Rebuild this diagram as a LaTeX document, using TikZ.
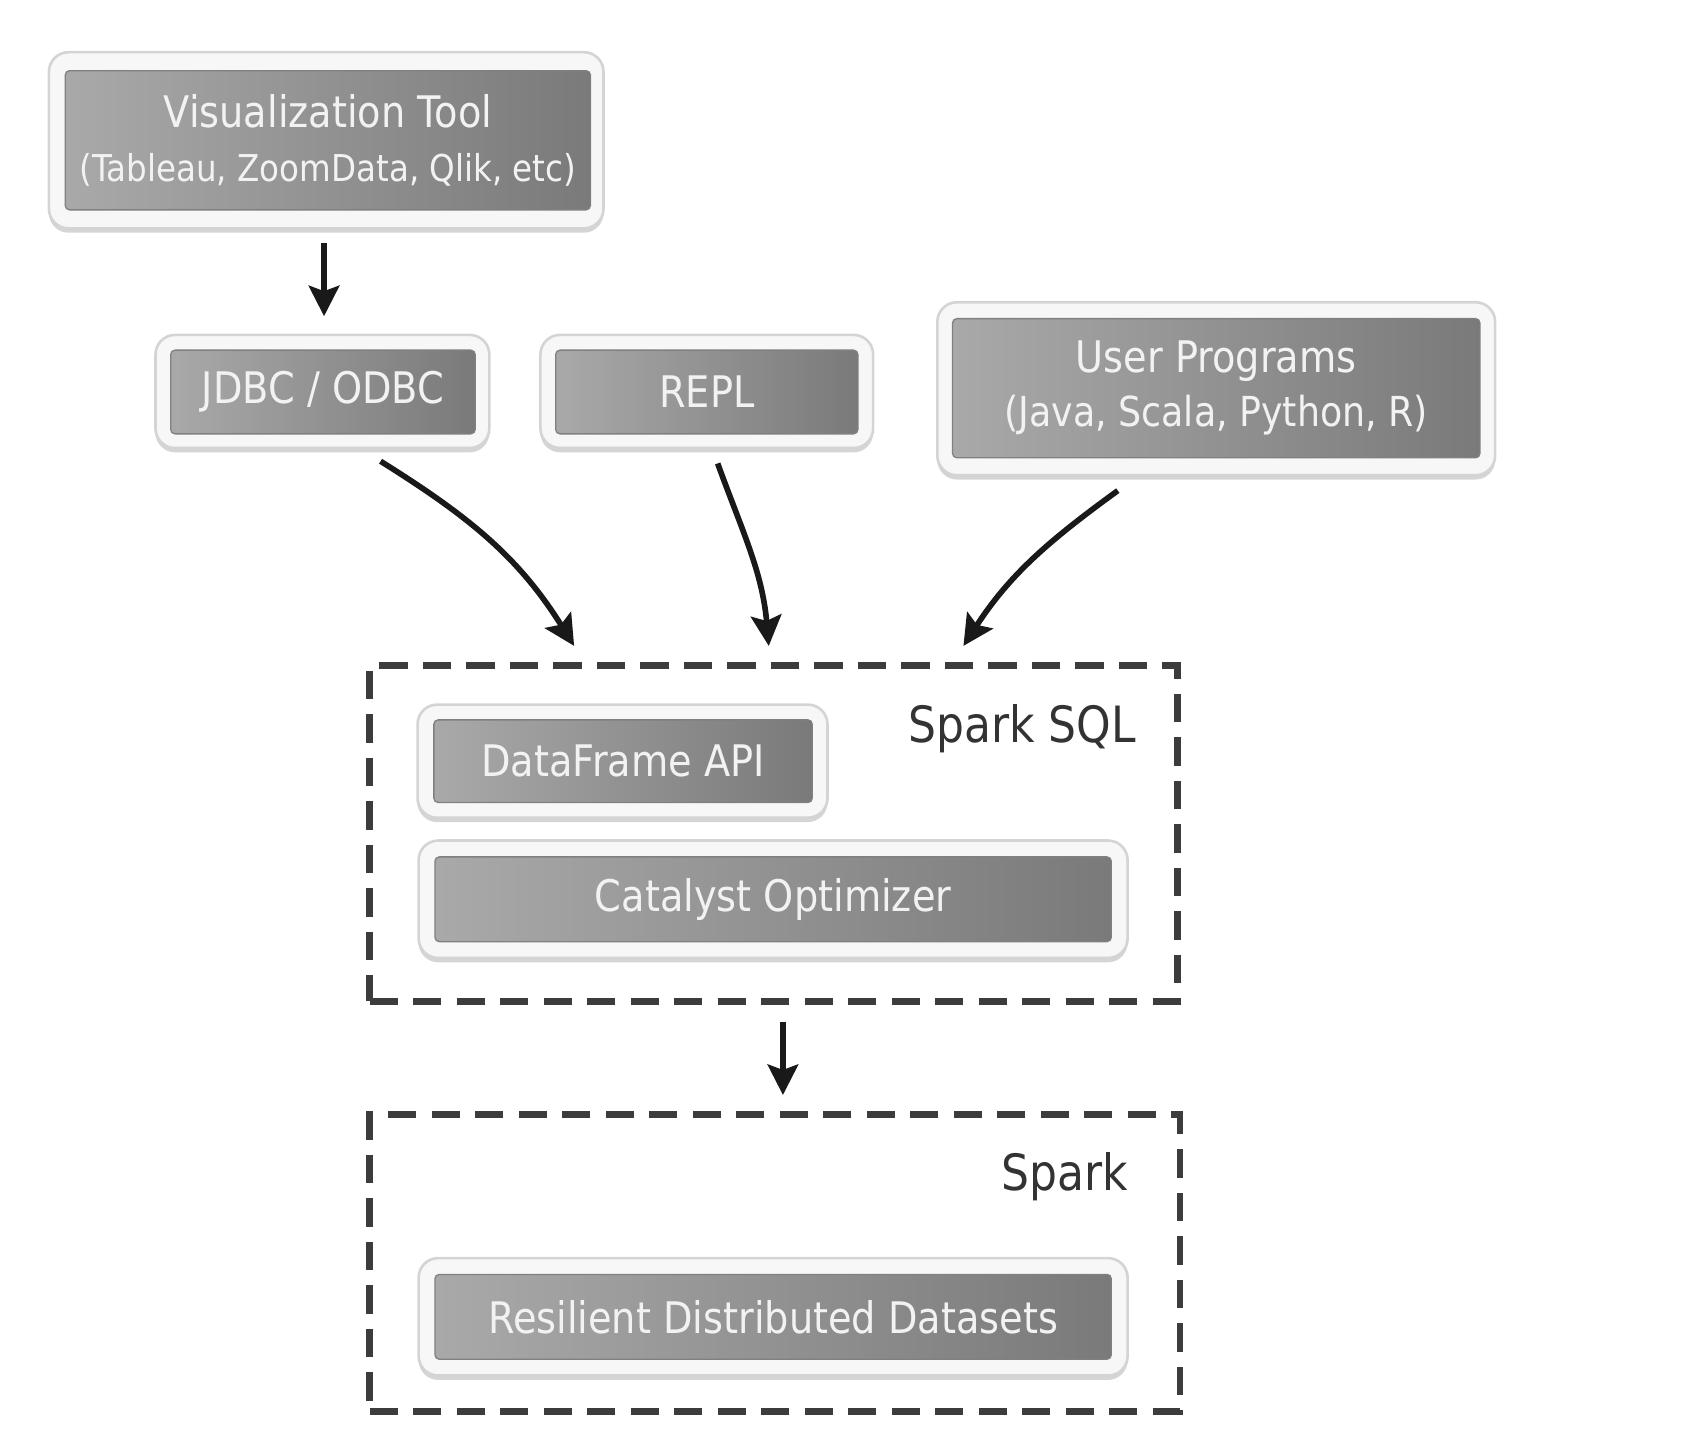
\documentclass[tikz,border=0pt]{standalone}
\usepackage{fontspec}
\setmainfont{DejaVu Sans}[FakeStretch=0.88]
\usetikzlibrary{arrows.meta,shadows,calc}
\definecolor{boxleft}{HTML}{A9A9A9}
\definecolor{boxright}{HTML}{7A7A7A}
\definecolor{dashcol}{HTML}{3C3C3C}
\definecolor{labelcol}{HTML}{333333}
\tikzset{
  outerframe/.style 2 args={draw=black!17, line width=1.2pt, fill=black!3,
    rounded corners=9pt, minimum width=#1*0.5pt, minimum height=#2*0.5pt,
    inner sep=0pt, drop shadow={shadow xshift=0pt, shadow yshift=-2pt, opacity=0.3, fill=black!55}},
  innerbox/.style 2 args={draw=black!50, line width=0.6pt, left color=boxleft, right color=boxright,
    rounded corners=2pt, minimum width=#1*0.5pt, minimum height=#2*0.5pt,
    inner sep=0pt, text=white!95!black, align=center, font=\fontsize{20}{25}\selectfont},
  dashbox/.style={draw=dashcol, line width=3pt, dash pattern=on 13pt off 7pt},
  arr/.style={draw=black!90, line width=2.6pt, -{Stealth[length=14pt,width=14pt,inset=2.5pt]}},
  lbl/.style={text=labelcol, font=\fontsize{23}{28}\selectfont, inner sep=0pt},
}
\begin{document}
\begin{tikzpicture}[x=0.5pt,y=-0.5pt]
\useasboundingbox (0,0) rectangle (1568,1338);
% Visualization tool
\node[outerframe={510}{162}] (visf) at (300,129) {};
\node[innerbox={483}{128}] (vis) at (301.5,129) {Visualization Tool\\\fontsize{17}{25}\selectfont(Tableau, ZoomData, Qlik, etc)};
% JDBC
\node[outerframe={307}{104}] (jdbcf) at (296.5,360) {};
\node[innerbox={280}{77}] (jdbc) at (297,360.5) {JDBC / ODBC};
% REPL
\node[outerframe={306}{104}] (replf) at (650,360) {};
\node[innerbox={278}{77}] (repl) at (650,360.5) {REPL};
% User programs
\node[outerframe={513}{159}] (userf) at (1118.5,357.5) {};
\node[innerbox={485}{128}] (user) at (1118.5,357) {User Programs\\\fontsize{19}{25}\selectfont(Java, Scala, Python, R)};
% Spark SQL
\node[dashbox, minimum width=743*0.5pt, minimum height=309*0.5pt, inner sep=0pt] (sql) at (711.5,766.5) {};
\node[lbl, anchor=east] (sqllbl) at (1045,670) {Spark SQL};
\node[outerframe={377}{104}] (dff) at (572.5,700) {};
\node[innerbox={348}{76}] (df) at (573,700) {DataFrame API};
\node[outerframe={652}{108}] (catf) at (711,827) {};
\node[innerbox={622}{78}] (cat) at (711,827) {Catalyst Optimizer};
% Spark
\node[dashbox, minimum width=745*0.5pt, minimum height=273*0.5pt, inner sep=0pt] (spark) at (712.5,1161.5) {};
\node[lbl, anchor=east] (sparklbl) at (1038,1082) {Spark};
\node[outerframe={652}{108}] (rddf) at (711,1211) {};
\node[innerbox={622}{78}] (rdd) at (711,1211) {Resilient Distributed Datasets};
% connectors
\draw[arr] ($(visf.south)+(-2,-12*0.5pt)$) -- ($(jdbcf.north)+(1.5,16*0.5pt)$);
\draw[arr] ($(jdbcf.south)+(53.5,-11*0.5pt)$) to[out=-32,in=122] ($(sql.north)+(-183.5,15*0.5pt)$);
\draw[arr] ($(replf.south)+(10,-13*0.5pt)$) to[out=-70,in=95] ($(sql.north)+(-4.5,15*0.5pt)$);
\draw[arr] ($(userf.south)+(-90.5,-13*0.5pt)$) to[out=216,in=57] ($(sql.north)+(174.5,15*0.5pt)$);
\draw[arr] ($(sql.south)+(8.5,-16*0.5pt)$) -- ($(spark.north)+(7.5,15*0.5pt)$);
\end{tikzpicture}
\end{document}
